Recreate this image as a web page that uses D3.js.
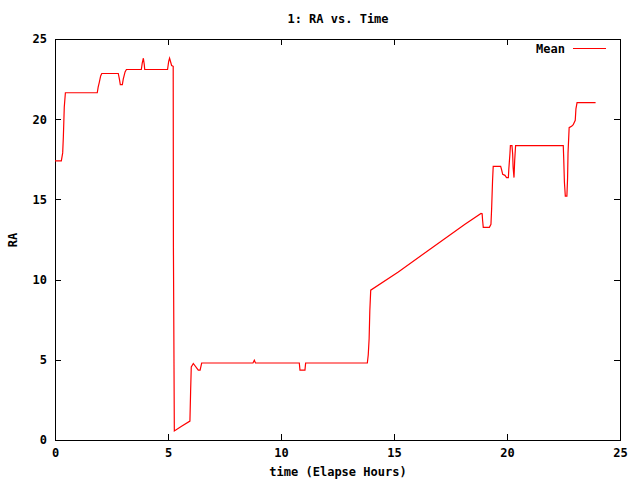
<!DOCTYPE html>
<html>
<head>
<meta charset="utf-8">
<script src="https://cdn.jsdelivr.net/npm/d3@7"></script>
<style>
  body { margin: 0; background: #fff; }
  text { font-family: "DejaVu Sans Mono", monospace; font-weight: bold; font-size: 12px; fill: #000; }
</style>
</head>
<body>
<div id="chart"></div>
<script>
// elapsed hours and RA mean values
const hours = [0, 0.28, 0.34, 0.37, 0.41, 0.46, 1.87, 1.91, 1.96, 2.02, 2.07, 2.80, 2.85, 2.89, 2.98, 3.02, 3.10, 3.16,
  3.82, 3.86, 3.91, 3.95, 3.97, 4.98, 5.03, 5.07, 5.12, 5.16, 5.23, 5.24, 5.28, 5.6, 5.97, 6.00, 6.03, 6.12, 6.34, 6.42, 6.49,
  8.76, 8.82, 8.87, 10.81, 10.84, 11.06, 11.09, 13.82, 13.86, 13.9, 13.93, 13.97, 15.19, 16.67, 18.14, 18.85, 18.9, 18.92, 18.95,
  19.22, 19.29, 19.32, 19.36, 19.39, 19.72, 19.76, 19.81, 19.91, 19.98, 20.06, 20.08, 20.13, 20.15, 20.22, 20.25, 20.27, 20.31,
  20.34, 20.38, 22.49, 22.51, 22.54, 22.58, 22.65, 22.68, 22.70, 22.75, 22.87, 22.93, 23.02, 23.05, 23.1, 23.92];
const raMean = [17.4, 17.4, 17.9, 18.9, 20.75, 21.65, 21.65, 22.0, 22.3, 22.7, 22.85, 22.85, 22.5, 22.15, 22.15, 22.5, 22.95, 23.1,
  23.1, 23.5, 23.8, 23.4, 23.1, 23.1, 23.6, 23.8, 23.55, 23.35, 23.3, 12.0, 0.56, 0.85, 1.18, 3.0, 4.56, 4.77, 4.36, 4.36, 4.8,
  4.8, 4.97, 4.8, 4.8, 4.36, 4.36, 4.8, 4.8, 5.3, 6.33, 8.05, 9.34, 10.48, 11.97, 13.45, 14.12, 14.1, 13.7, 13.26,
  13.26, 13.45, 14.43, 16.13, 17.06, 17.06, 16.86, 16.56, 16.5, 16.36, 16.36, 16.87, 17.85, 18.35, 18.35, 17.85, 17.0, 16.36,
  17.43, 18.35, 18.35, 17.54, 16.08, 15.21, 15.21, 16.3, 17.87, 19.47, 19.57, 19.66, 19.93, 20.65, 21.03, 21.03];

const xTicks = [0, 5, 10, 15, 20, 25];
const yTicks = [0, 5, 10, 15, 20, 25];

const W = 640, H = 480;
const margin = { top: 39, right: 20, bottom: 40, left: 55 };
const width = W - margin.left - margin.right;
const height = H - margin.top - margin.bottom;

const svg = d3.select("#chart").append("svg")
    .attr("width", W)
    .attr("height", H);

const g = svg.append("g")
    .attr("transform", `translate(${margin.left},${margin.top})`);

const x = d3.scaleLinear().domain([0, 25]).range([0, width]);
const y = d3.scaleLinear().domain([0, 25]).range([height, 0]);

// frame
g.append("rect")
    .attr("x", 0).attr("y", 0)
    .attr("width", width).attr("height", height)
    .attr("fill", "none")
    .attr("stroke", "#000")
    .attr("shape-rendering", "crispEdges");

// axes with inward ticks, mirrored on top/right
const tickLen = 6;
g.append("g").attr("transform", `translate(0,${height})`)
    .call(d3.axisBottom(x).tickValues(xTicks).tickSize(-tickLen).tickPadding(8).tickFormat(d3.format("d")));
g.append("g")
    .call(d3.axisLeft(y).tickValues(yTicks).tickSize(-tickLen).tickPadding(8).tickFormat(d3.format("d")));
g.append("g")
    .call(d3.axisTop(x).tickValues(xTicks).tickSize(-tickLen).tickFormat(""));
g.append("g").attr("transform", `translate(${width},0)`)
    .call(d3.axisRight(y).tickValues(yTicks).tickSize(-tickLen).tickFormat(""));

g.selectAll(".domain").remove();
g.selectAll(".tick line").attr("stroke", "#000").attr("shape-rendering", "crispEdges");
g.selectAll(".tick text").style("font-family", "DejaVu Sans Mono, monospace").style("font-size", "12px").style("font-weight", "bold");

// data line
const data = hours.map((h, i) => ({ t: h, v: raMean[i] }));
const line = d3.line().x(d => x(d.t)).y(d => y(d.v));
g.append("path")
    .datum(data)
    .attr("d", line)
    .attr("fill", "none")
    .attr("stroke", "#ff0000")
    .attr("stroke-width", 1.2);

// title
svg.append("text")
    .attr("x", 338).attr("y", 23)
    .attr("text-anchor", "middle")
    .text("1: RA vs. Time");

// axis labels
svg.append("text")
    .attr("x", 338).attr("y", 476)
    .attr("text-anchor", "middle")
    .text("time (Elapse Hours)");

svg.append("text")
    .attr("transform", "rotate(-90)")
    .attr("x", -240).attr("y", 17)
    .attr("text-anchor", "middle")
    .text("RA");

// legend
svg.append("text")
    .attr("x", 565).attr("y", 53)
    .attr("text-anchor", "end")
    .text("Mean");
svg.append("line")
    .attr("x1", 573).attr("x2", 606)
    .attr("y1", 48.5).attr("y2", 48.5)
    .attr("stroke", "#ff0000");
</script>
</body>
</html>
